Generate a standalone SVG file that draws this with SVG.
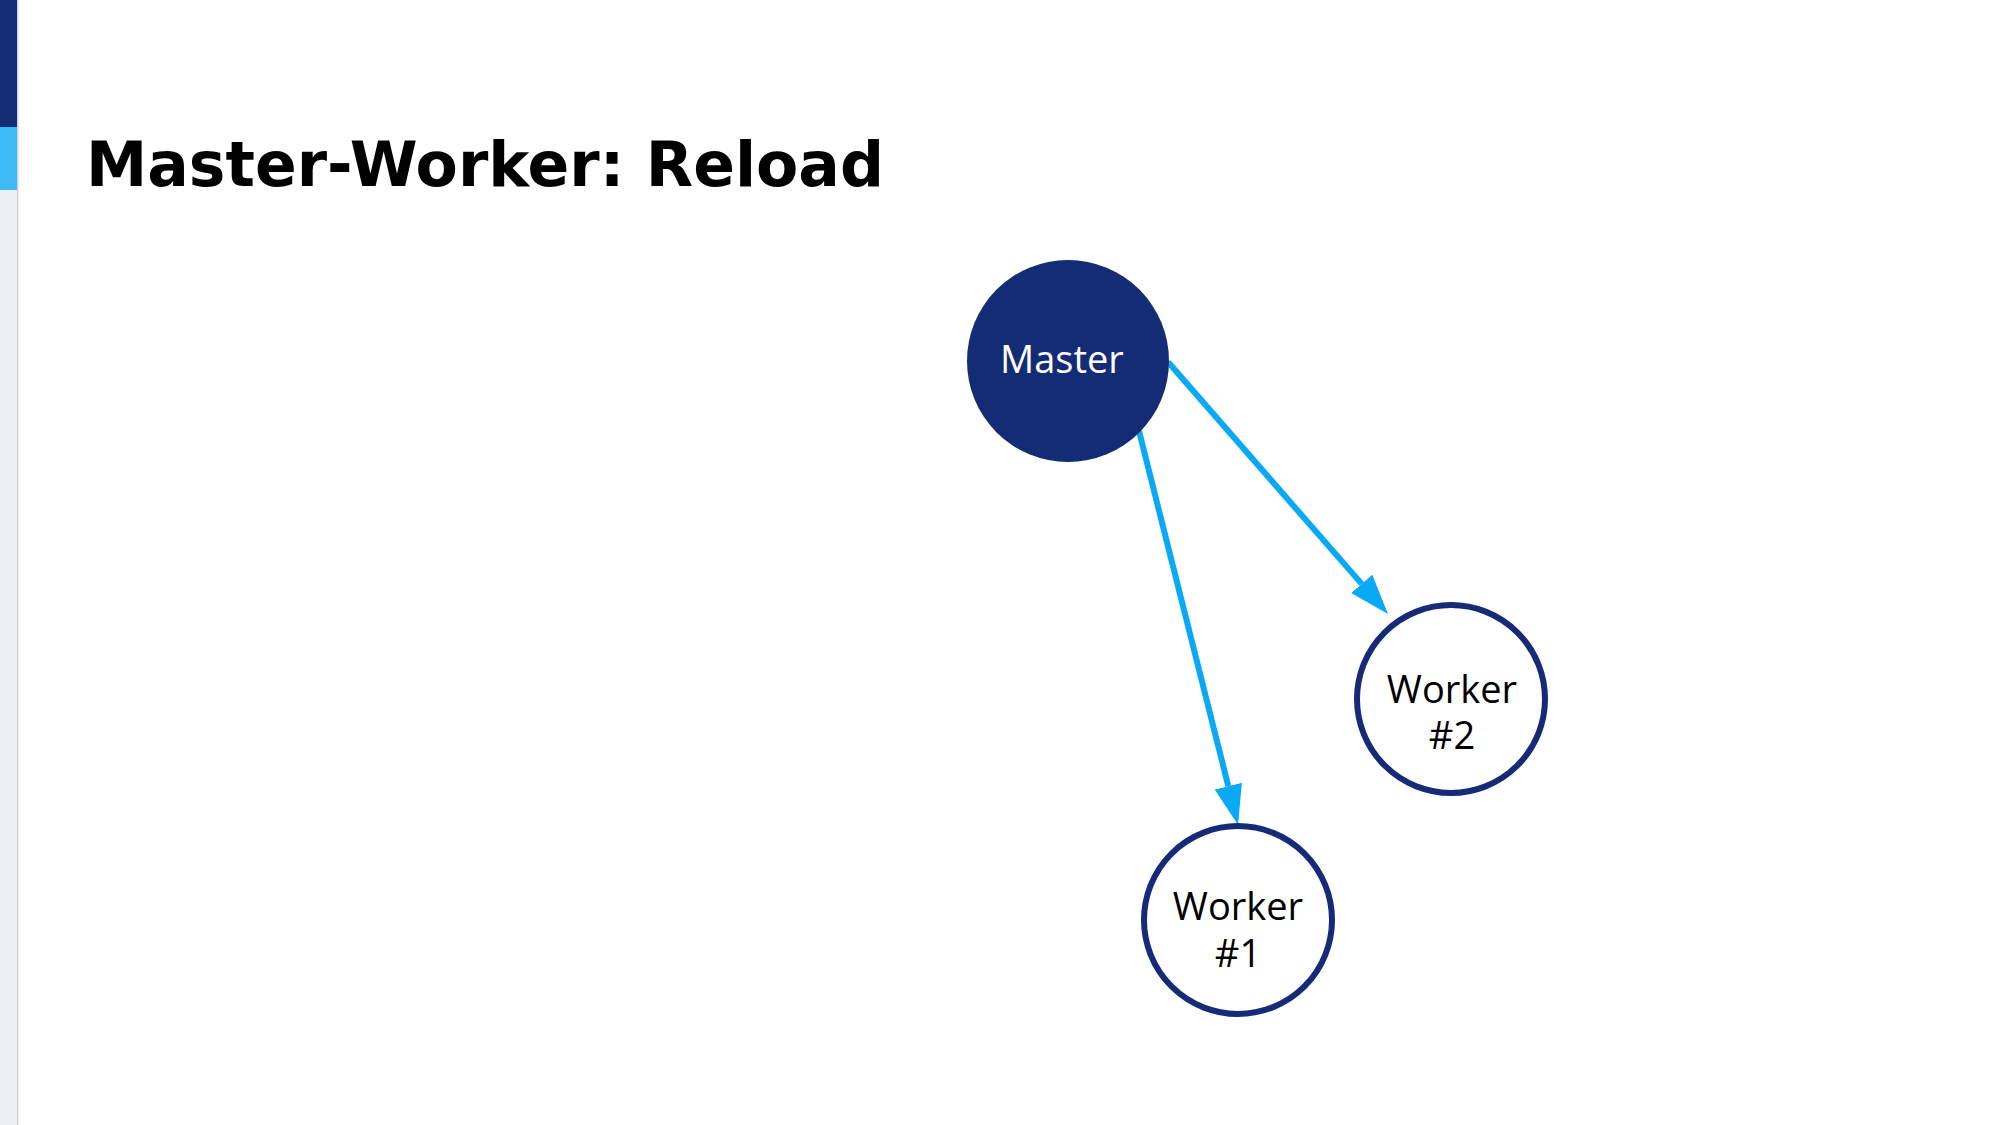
<svg xmlns="http://www.w3.org/2000/svg" width="2000" height="1125" viewBox="0 0 2000 1125">
  <style>
    .node-text { font-family: "Open Sans", "Noto Sans", sans-serif; font-size: 38px; text-anchor: middle; }
    .worker { fill: #ffffff; stroke: #152b78; stroke-width: 6; }
    .edge { fill: none; stroke: #0aa9f5; stroke-width: 6; }
  </style>
  <defs>
    <marker id="arrow" viewBox="0 0 40 28" refX="0" refY="14" markerWidth="40" markerHeight="28" markerUnits="userSpaceOnUse" orient="auto">
      <path d="M0,0 L40,14 L0,28 z" fill="#0aa9f5"/>
    </marker>
  </defs>
  <rect x="0" y="0" width="2000" height="1125" fill="#ffffff"/>
  <g id="sidebar">
    <rect x="0" y="0" width="17" height="1125" fill="#ecf0f4"/>
    <rect x="0" y="0" width="17" height="127" fill="#142b75"/>
    <rect x="0" y="127" width="17" height="63" fill="#3dbbf7"/>
    <rect x="17" y="0" width="1.5" height="1125" fill="#cfd3d8"/>
  </g>
  <text id="title" x="86" y="186" font-family="'DejaVu Sans', 'Liberation Sans', sans-serif" font-weight="bold" font-size="62" textLength="798" lengthAdjust="spacingAndGlyphs" fill="#000000">Master-Worker: Reload</text>
  <g id="connectors">
    <path class="edge" d="M1168,362 L1361.7,583.9" marker-end="url(#arrow)"/>
    <path class="edge" d="M1139,431 L1228.3,786.2" marker-end="url(#arrow)"/>
  </g>
  <g id="master">
    <circle cx="1068" cy="361" r="101" fill="#142b75"/>
    <text class="node-text" x="1062" y="373" fill="#ffffff">Master</text>
  </g>
  <g id="worker1">
    <circle class="worker" cx="1238" cy="920" r="94"/>
    <text class="node-text" x="1238" y="920" fill="#000000">Worker</text>
    <text class="node-text" x="1238" y="967" fill="#000000">#1</text>
  </g>
  <g id="worker2">
    <circle class="worker" cx="1451" cy="699" r="94"/>
    <text class="node-text" x="1452" y="703" fill="#000000">Worker</text>
    <text class="node-text" x="1452" y="749" fill="#000000">#2</text>
  </g>
</svg>
